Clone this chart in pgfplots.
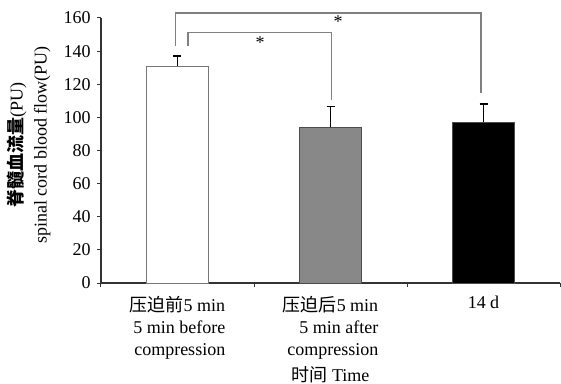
\documentclass[border=0pt]{standalone}
\usepackage{fontspec}
\setmainfont{Liberation Serif}
\newfontfamily\cjk{Noto Sans CJK SC}
\usepackage{pgfplots}
\pgfplotsset{compat=1.18}
\definecolor{bargray}{HTML}{888888}
\definecolor{edgegray}{HTML}{777777}
\definecolor{brk}{HTML}{808080}
\begin{document}
\fontsize{10.8}{13.2}\selectfont
\begin{tikzpicture}
\useasboundingbox (-60.6pt,-60pt) rectangle (276pt,169.8pt);
\begin{axis}[
  scale only axis,
  width=275.4pt, height=159pt,
  xmin=0, xmax=3, ymin=0, ymax=160,
  clip=false,
  axis x line=bottom, axis y line=left,
  axis line style={-, black!80, line width=0.7pt},
  tick align=outside,
  tick style={black!80, line width=0.6pt},
  major tick length=2.4pt,
  /pgf/number format/assume math mode=true,
  ytick={0,20,...,160},
  xtick={0,1,2,3}, xticklabels={{},{},{},{}},
  extra x ticks={0.5,1.5,2.5},
  extra x tick labels={{\cjk 压迫前}5 min\\5 min before\\compression,{\cjk 压迫后}5 min\\5 min after\\compression,14 d},
  extra x tick style={major tick length=0pt, tick style={draw=none}, xticklabel style={align=right, anchor=north, yshift=-4.2pt, font=\fontsize{10.8}{13.2}\selectfont}},
  yticklabel style={font=\fontsize{10.8}{13.2}\selectfont},
  ylabel={{\cjk\bfseries 脊髓血流量}(PU)\\spinal cord blood flow(PU)},
  ylabel style={at={(axis description cs:-0.157,0.52)}, anchor=center, align=center, font=\fontsize{10.8}{14.4}\selectfont},
  xlabel={{\cjk 时间} Time},
  xlabel style={at={(axis description cs:0.5,0)}, anchor=center, yshift=-55pt, font=\fontsize{10.8}{13.2}\selectfont},
]
\addplot[ybar, bar width=37.2pt, fill=white, draw=edgegray, line width=0.6pt,
  error bars/.cd, y dir=plus, y explicit,
  error bar style={black, line width=0.9pt},
  error mark options={rotate=90, mark size=2.4pt, black, line width=0.9pt}]
  coordinates {(0.5,131) +- (0,6)};
\addplot[ybar, bar width=37.2pt, fill=bargray, draw=black!70, line width=0.6pt,
  error bars/.cd, y dir=plus, y explicit,
  error bar style={black, line width=0.9pt},
  error mark options={rotate=90, mark size=2.4pt, black, line width=0.9pt}]
  coordinates {(1.5,94) +- (0,12.5)};
\addplot[ybar, bar width=37.2pt, fill=black, draw=black!70, line width=0.6pt,
  error bars/.cd, y dir=plus, y explicit,
  error bar style={black, line width=0.9pt},
  error mark options={rotate=90, mark size=2.4pt, black, line width=0.9pt}]
  coordinates {(2.5,97) +- (0,11)};
% significance brackets
\addplot[brk, line width=0.7pt, mark=none] coordinates {(0.488,143) (0.488,163) (2.484,163) (2.484,114.5)};
\addplot[brk, line width=0.7pt, mark=none] coordinates {(0.569,143) (0.569,151) (1.508,151) (1.508,110.5)};
\node[inner sep=0pt, font=\fontsize{10.8}{13.2}\selectfont] at (axis cs:1.04,145) {*};
\node[inner sep=0pt, font=\fontsize{10.8}{13.2}\selectfont] at (axis cs:1.55,158) {*};
\end{axis}
\end{tikzpicture}
\end{document}
